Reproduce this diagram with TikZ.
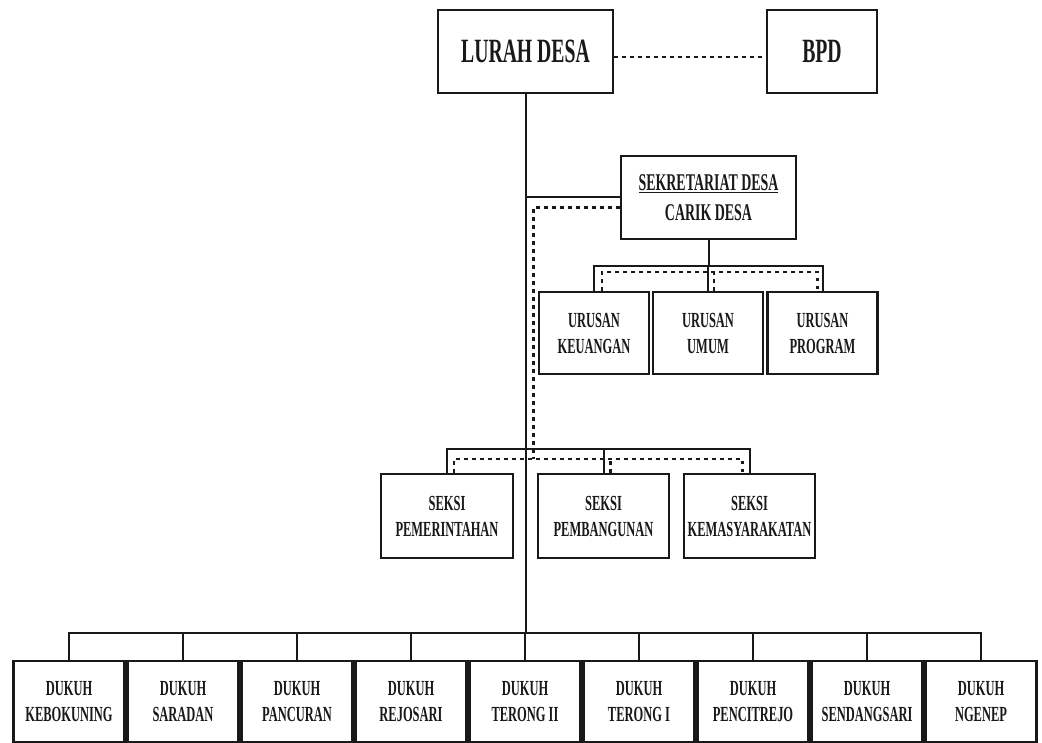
\documentclass[tikz,border=0pt]{standalone}
\usepackage{fontspec}
\newfontfamily\orgfont{Liberation Serif}[FakeStretch=0.58]
\newcommand\undertext[1]{\vtop{\hbox{#1}\kern1.2pt\hrule height 1.6pt}}

\tikzset{
  orgbox/.style={draw=black!90, line width=2.7pt, fill=white, align=center,
    inner sep=2pt, text=black!90, minimum height=82pt,
    font=\orgfont\bfseries\fontsize{21.5}{26}\selectfont},
  bigbox/.style={orgbox, minimum height=83pt,
    font=\orgfont\bfseries\fontsize{34}{40}\selectfont},
  conn/.style={draw=black!90, line width=2pt},
  dotline/.style={draw=black!90, line width=2.2pt, dash pattern=on 3.5pt off 4.5pt},
}

\begin{document}
\begin{tikzpicture}[x=1pt, y=-1pt]
  \fill[white] (0,0) rectangle (1042,743);
  \useasboundingbox (0,0) rectangle (1042,743);
  % levels of the bars
  \coordinate (ubar) at (0,266);
  \coordinate (udot) at (0,272);
  \coordinate (sbar) at (0,449);
  \coordinate (sdot) at (0,459);
  \coordinate (dbar) at (0,633);
  % boxes
  \node[bigbox, minimum width=175pt] (lurah) at (525.5,51.5) {LURAH DESA};
  \node[bigbox, minimum width=110pt] (bpd) at (822,51.5) {BPD};
  \node[orgbox, minimum width=175pt, minimum height=83pt,
    font=\orgfont\bfseries\fontsize{24}{30}\selectfont] (sekr) at (708.5,197.5)
    {\undertext{SEKRETARIAT DESA}\\CARIK DESA};
  \node[orgbox, minimum width=110pt] (keu) at (594,333) {URUSAN\\KEUANGAN};
  \node[orgbox, minimum width=110pt] (umum) at (708,333) {URUSAN\\UMUM};
  \node[orgbox, minimum width=110pt] (prog) at (822.5,333) {URUSAN\\PROGRAM};
  \node[orgbox, minimum width=132pt, minimum height=84pt] (pem) at (447,516) {SEKSI\\PEMERINTAHAN};
  \node[orgbox, minimum width=131pt, minimum height=84pt] (pemb) at (603.5,516) {SEKSI\\PEMBANGUNAN};
  \node[orgbox, minimum width=131pt, minimum height=84pt] (kem) at (749.5,516) {SEKSI\\KEMASYARAKATAN};
  \foreach \name [count=\i] in {KEBOKUNING,SARADAN,PANCURAN,REJOSARI,TERONG II,TERONG I,PENCITREJO,SENDANGSARI,NGENEP}
    \node[orgbox, minimum width=111pt, minimum height=81pt] (d\i) at ({69+114*(\i-1)},701.5) {DUKUH\\\name};
  % lurah and bpd
  \draw[dotline] ([yshift=-5.5pt]lurah.east) -- ([yshift=-5.5pt]bpd.west);
  % main line
  \draw[conn] (lurah.south) -- (lurah.south |- dbar);
  \draw[conn] (sekr.west) -- (sekr.west -| lurah.south);
  \draw[dotline] ([yshift=-10pt]sekr.west) -| ([xshift=8pt]lurah.south |- sdot);
  % urusan
  \draw[conn] (sekr.south) -- (sekr.south |- ubar);
  \draw[conn] (keu.north) -- (keu.north |- ubar) -- (prog.north |- ubar) -- (prog.north);
  \draw[conn] (umum.north) -- (umum.north |- ubar);
  \draw[dotline] ([xshift=8pt]keu.north) -- ([xshift=8pt]keu.north |- udot)
    -- ([xshift=-5pt]prog.north |- udot) -- ([xshift=-5pt]prog.north);
  \draw[dotline] ([xshift=6pt]umum.north) -- ([xshift=6pt]umum.north |- udot);
  % seksi
  \draw[conn] (pem.north) -- (pem.north |- sbar) -- (kem.north |- sbar) -- (kem.north);
  \draw[conn] (pemb.north) -- (pemb.north |- sbar);
  \draw[dotline] ([xshift=7pt]pem.north) -- ([xshift=7pt]pem.north |- sdot)
    -- ([xshift=-7pt]kem.north |- sdot) -- ([xshift=-7pt]kem.north);
  \draw[dotline] ([xshift=7pt]pemb.north) -- ([xshift=7pt]pemb.north |- sdot);
  % dukuh
  \draw[conn] (d1.north) -- (d1.north |- dbar) -- (d9.north |- dbar) -- (d9.north);
  \foreach \i in {2,...,8}
    \draw[conn] (d\i.north) -- (d\i.north |- dbar);
\end{tikzpicture}
\end{document}
